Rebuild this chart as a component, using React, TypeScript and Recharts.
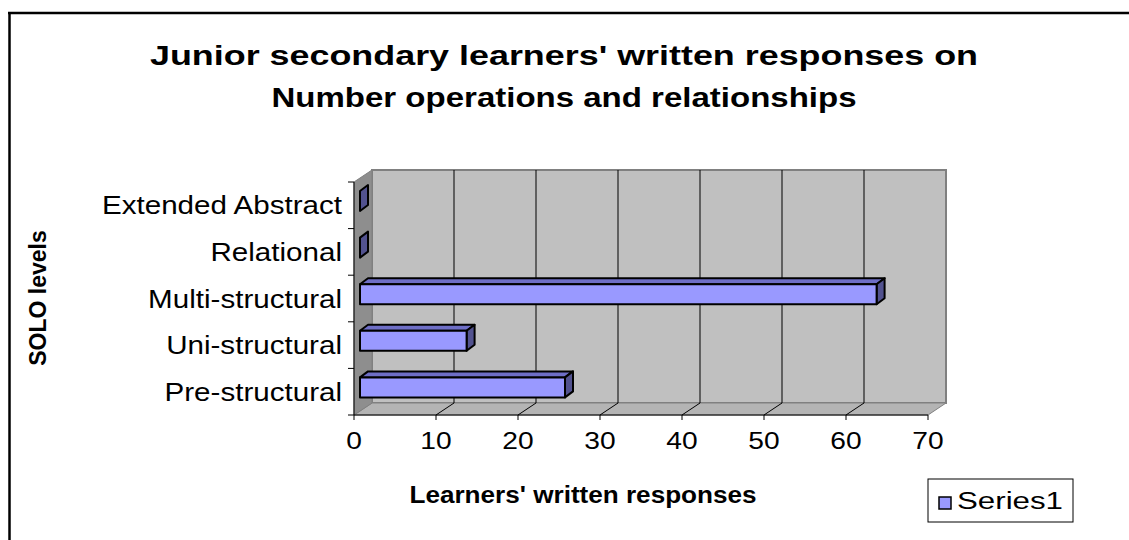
import { BarChart, Bar, XAxis, YAxis, ReferenceArea } from 'recharts'

const categories = ['Pre-structural', 'Uni-structural', 'Multi-structural', 'Relational', 'Extended Abstract']
const series1 = [25, 13, 63, 0, 0]
const xTicks = [0, 10, 20, 30, 40, 50, 60, 70]
const titleLines = ["Junior secondary learners' written responses on", 'Number operations and relationships']
const xTitle = "Learners' written responses"
const yTitle = 'SOLO levels'
const seriesName = 'Series1'

const data = categories.map((name, i) => ({ name, value: series1[i] }))

const W = 1129
const H = 540
const MARGIN = { top: 182, right: 201, bottom: 0, left: 0 }
const Y_AXIS_W = 354
const X_AXIS_H = 125
// 3d box depth, and where the bars sit inside it
const DEPTH = { x: 18, y: 12 }
const BAR_SHIFT = { x: 6, y: 4 }
const BAR_DEPTH = { x: 8, y: 6 }

const FONT = '"Liberation Sans", Arial, Helvetica, sans-serif'

function Walls(props: any) {
  const { x, y, width, height } = props
  const bottom = y + height
  const lo = xTicks[0]
  const hi = xTicks[xTicks.length - 1]
  const tx = xTicks.map((t) => x + ((t - lo) / (hi - lo)) * width)
  const band = height / categories.length
  const dx = DEPTH.x
  const dy = DEPTH.y
  return (
    <g>
      <rect x={x + dx} y={y - dy} width={width} height={height} fill="#C0C0C0" stroke="#808080" strokeWidth={2} />
      <polygon
        points={`${x},${bottom} ${x + width},${bottom} ${x + width + dx},${bottom - dy} ${x + dx},${bottom - dy}`}
        fill="#B4B4B4"
        stroke="#808080"
      />
      <polygon
        points={`${x},${y} ${x + dx},${y - dy} ${x + dx},${bottom - dy} ${x},${bottom}`}
        fill="#8E8E8E"
        stroke="#808080"
      />
      {tx.map((px, i) =>
        i > 0 && i < tx.length - 1 ? (
          <g key={i}>
            <line x1={px + dx} y1={y - dy} x2={px + dx} y2={bottom - dy} stroke="#000" />
            <line x1={px} y1={bottom} x2={px + dx} y2={bottom - dy} stroke="#000" />
          </g>
        ) : null
      )}
      {categories.map((_, i) => (
        <line key={'c' + i} x1={x - 6} y1={y + i * band} x2={x} y2={y + i * band} stroke="#000" />
      ))}
      <line x1={x - 6} y1={bottom} x2={x} y2={bottom} stroke="#000" />
    </g>
  )
}

function Bar3D(props: any) {
  const { x, y, height } = props
  const w = Math.max(0, props.width || 0)
  const fx = x + BAR_SHIFT.x
  const fy = y - BAR_SHIFT.y
  const dx = BAR_DEPTH.x
  const dy = BAR_DEPTH.y
  return (
    <g stroke="#000" strokeWidth={2} strokeLinejoin="round">
      {w > 0 && (
        <polygon points={`${fx},${fy} ${fx + w},${fy} ${fx + w + dx},${fy - dy} ${fx + dx},${fy - dy}`} fill="#6E6EC6" />
      )}
      <polygon
        points={`${fx + w},${fy} ${fx + w + dx},${fy - dy} ${fx + w + dx},${fy - dy + height} ${fx + w},${fy + height}`}
        fill="#52528F"
      />
      {w > 0 && <rect x={fx} y={fy} width={w} height={height} fill="#9999FF" />}
    </g>
  )
}

function XTick(props: any) {
  const { x, y, payload } = props
  return (
    <text
      transform={`translate(${x},${y + 27}) scale(1.15,1)`}
      textAnchor="middle"
      fontFamily={FONT}
      fontSize={24.5}
      fill="#000"
    >
      {payload.value}
    </text>
  )
}

function YTick(props: any) {
  const { x, y, payload } = props
  return (
    <text
      transform={`translate(${x - 12},${y + 9}) scale(1.16,1)`}
      textAnchor="end"
      fontFamily={FONT}
      fontSize={25.5}
      fill="#000"
    >
      {payload.value}
    </text>
  )
}

export default function App() {
  return (
    <div style={{ position: 'absolute', left: 0, top: 0, width: W, height: H, background: '#fff' }}>
      <BarChart width={W} height={H} data={data} layout="vertical" margin={MARGIN}>
        <ReferenceArea
          x1={xTicks[0]}
          x2={xTicks[xTicks.length - 1]}
          ifOverflow="visible"
          shape={(p: any) => <Walls {...p} />}
        />
        <XAxis
          type="number"
          domain={[xTicks[0], xTicks[xTicks.length - 1]]}
          ticks={xTicks}
          interval={0}
          height={X_AXIS_H}
          axisLine={{ stroke: '#000' }}
          tickLine={{ stroke: '#000' }}
          tickSize={5}
          tick={<XTick />}
        />
        <YAxis
          type="category"
          dataKey="name"
          reversed
          width={Y_AXIS_W}
          interval={0}
          axisLine={{ stroke: '#000' }}
          tickLine={false}
          tickSize={0}
          tickMargin={0}
          tick={<YTick />}
        />
        <Bar dataKey="value" name={seriesName} barSize={20} shape={(p: any) => <Bar3D {...p} />} isAnimationActive={false} />
      </BarChart>
      <svg
        width={W}
        height={H}
        style={{ position: 'absolute', left: 0, top: 0, pointerEvents: 'none' }}
        fontFamily={FONT}
      >
        <line x1={9.5} y1={12} x2={9.5} y2={H} stroke="#000" strokeWidth={2.5} />
        <line x1={8} y1={13} x2={W} y2={13} stroke="#000" strokeWidth={2.5} />
        <text x={564} y={65} textAnchor="middle" fontSize={28} fontWeight="bold" textLength={828} lengthAdjust="spacingAndGlyphs">
          {titleLines[0]}
        </text>
        <text x={564} y={107} textAnchor="middle" fontSize={28} fontWeight="bold" textLength={585} lengthAdjust="spacingAndGlyphs">
          {titleLines[1]}
        </text>
        <text x={583} y={503} textAnchor="middle" fontSize={23} fontWeight="bold" textLength={347} lengthAdjust="spacingAndGlyphs">
          {xTitle}
        </text>
        <text x={46} y={298} textAnchor="middle" fontSize={23} fontWeight="bold" transform="rotate(-90 46 298)">
          {yTitle}
        </text>
        <rect x={928} y={479} width={145} height={43} fill="#fff" stroke="#000" strokeWidth={1} />
        <rect x={939} y={497} width={12} height={12} fill="#9999FF" stroke="#000" strokeWidth={1.5} />
        <text x={957} y={509} fontSize={23} textLength={106} lengthAdjust="spacingAndGlyphs">
          {seriesName}
        </text>
      </svg>
    </div>
  )
}
